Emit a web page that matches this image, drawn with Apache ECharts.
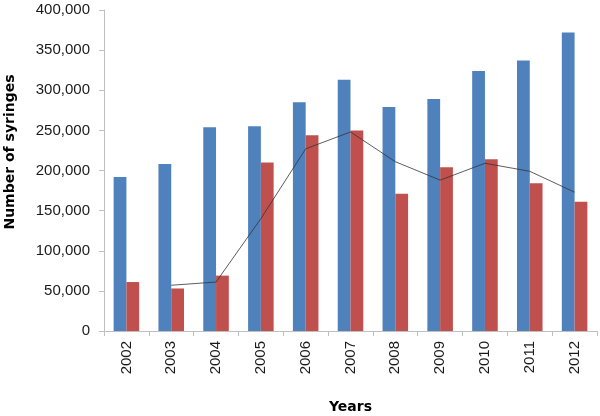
<!DOCTYPE html>
<html><head><meta charset="utf-8">
<script src="https://cdn.jsdelivr.net/npm/echarts@6/dist/echarts.min.js"></script>
<style>html,body{margin:0;padding:0;background:#fff}#c{width:600px;height:416px}</style>
</head><body><div id="c"></div>
<script>
var years = ['2002','2003','2004','2005','2006','2007','2008','2009','2010','2011','2012'];
var seriesA = [192000,208000,254000,255000,285000,313000,279000,289000,324000,337000,372000];
var seriesB = [61000,53000,69000,210000,244000,250000,171000,204000,214000,184000,161000];
var trend = [null,57000,61000,140000,227000,248000,211000,188000,209000,199000,173000];
var yTicks = {min:0,max:400000,interval:50000};

var chart = echarts.init(document.getElementById('c'));
chart.setOption({
  animation:false,
  grid:{left:104,right:3,top:10,bottom:85,containLabel:false,outerBoundsMode:'none'},
  graphic:[{
    type:'text',x:10,y:152,rotation:Math.PI/2,
    style:{text:'Number of syringes',fontFamily:'DejaVu Sans',fontWeight:'bold',fontSize:14,fill:'#000',
      align:'center',verticalAlign:'middle'}
  }],
  xAxis:{
    type:'category',data:years,
    name:'Years',nameLocation:'middle',nameGap:69,
    nameTextStyle:{fontFamily:'DejaVu Sans',fontWeight:'bold',fontSize:14,color:'#000'},
    axisLine:{lineStyle:{color:'#bfbfbf'}},
    axisTick:{show:true,length:5,lineStyle:{color:'#bfbfbf'}},
    axisLabel:{rotate:90,fontFamily:'Liberation Sans',fontSize:15,color:'#1a1a1a',margin:10}
  },
  yAxis:{
    type:'value',min:yTicks.min,max:yTicks.max,interval:yTicks.interval,
    splitLine:{show:false},
    axisLine:{show:true,lineStyle:{color:'#bfbfbf'}},
    axisTick:{show:true,length:5,lineStyle:{color:'#bfbfbf'}},
    axisLabel:{fontFamily:'Liberation Sans',fontSize:15,color:'#1a1a1a',margin:14,
      formatter:function(v){return v.toLocaleString('en-US');}}
  },
  series:[
    {type:'bar',data:seriesA,barWidth:'28.5%',barGap:'0%',itemStyle:{color:'#4F81BD'}},
    {type:'bar',data:seriesB,barWidth:'28.5%',barGap:'0%',itemStyle:{color:'#C0504D'}},
    {type:'line',data:trend,symbol:'none',lineStyle:{color:'#333',width:0.8}}
  ]
});
</script></body></html>
